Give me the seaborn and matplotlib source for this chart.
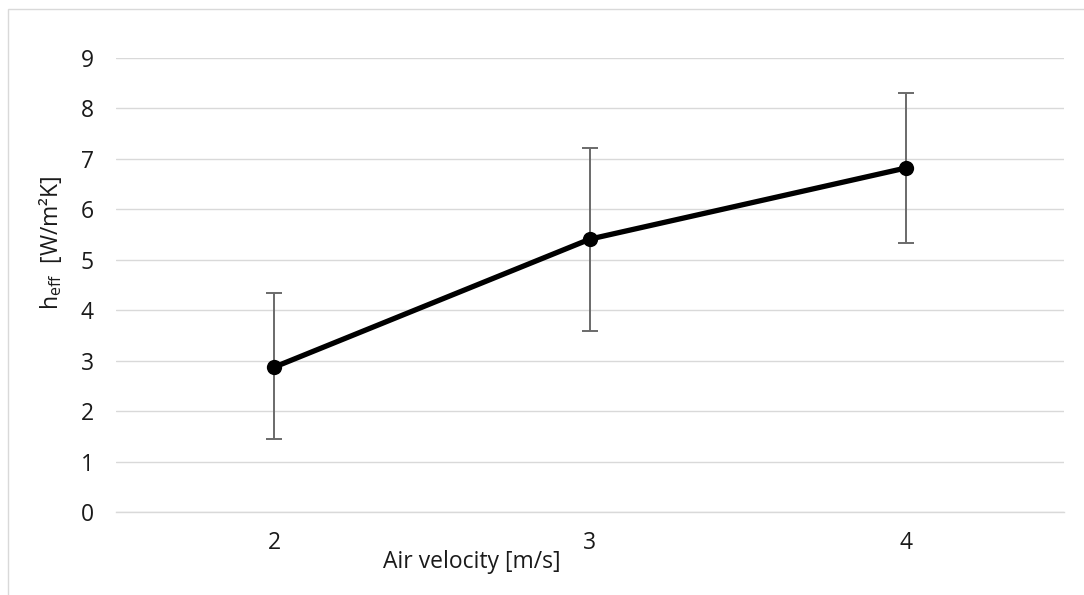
import numpy as np
import pandas as pd
import matplotlib
matplotlib.use("Agg")
import matplotlib.pyplot as plt
from matplotlib.patches import Rectangle
import seaborn as sns

# Measured effective heat transfer coefficient vs. air velocity
velocity = [2, 3, 4]
h_eff = [2.87, 5.41, 6.82]
h_low = [1.45, 3.59, 5.34]
h_high = [4.35, 7.22, 8.31]
y_ticks = [0, 1, 2, 3, 4, 5, 6, 7, 8, 9]

df = pd.DataFrame({"velocity": velocity, "h_eff": h_eff})

sns.set_theme(style="white")
plt.rcParams["font.family"] = ["Open Sans", "DejaVu Sans"]
plt.rcParams["mathtext.fontset"] = "custom"
plt.rcParams["mathtext.rm"] = "Open Sans"

FS = 16.5
TXT = "#1a1a1a"

fig = plt.figure(figsize=(10.84, 5.95), dpi=100)
ax = fig.add_axes([116 / 1084, 1 - 512 / 595, 948 / 1084, 454 / 595])

# light frame around the chart
fig.patches.append(Rectangle((7.5 / 1084, -0.05), 1.1, 1 - 9 / 595 + 0.05,
                             transform=fig.transFigure, fill=False,
                             edgecolor="#d9d9d9", linewidth=1.0, zorder=0))

lower = np.array(h_eff) - np.array(h_low)
upper = np.array(h_high) - np.array(h_eff)
ax.errorbar(velocity, h_eff, yerr=[lower, upper], fmt="none",
            ecolor="#6a6a6a", elinewidth=1.4, capsize=5.5, capthick=1.4, zorder=2)

sns.lineplot(data=df, x="velocity", y="h_eff", ax=ax, color="black",
             linewidth=3.8, marker="o", markersize=11, markeredgewidth=0,
             zorder=3)

ax.set_xlim(1.5, 4.5)
ax.set_ylim(0, 9)
ax.set_yticks(y_ticks)
ax.set_xticks(velocity)
ax.set_xticklabels([str(v) for v in velocity])
ax.yaxis.grid(True, color="#d9d9d9", linewidth=1.0)
ax.xaxis.grid(False)
for s in ["top", "right", "left"]:
    ax.spines[s].set_visible(False)
ax.spines["bottom"].set_color("#d9d9d9")
ax.spines["bottom"].set_linewidth(1.0)
ax.set_axisbelow(True)

ax.tick_params(axis="both", length=0, labelsize=FS, colors=TXT)
ax.tick_params(axis="x", pad=14)
ax.tick_params(axis="y", pad=16)

ax.set_xlabel("Air velocity [m/s]", fontsize=FS, color=TXT)
ax.xaxis.label.set_va("center")
ax.xaxis.set_label_coords((472 - 116) / 948, (512 - 562) / 454)

ax.set_ylabel(r"h$\mathregular{_{eff}}$  [W/m²K]", fontsize=FS, color=TXT)
ax.yaxis.label.set_va("center")
ax.yaxis.set_label_coords((50 - 116) / 948, (512 - 243) / 454)

fig.savefig("out.png", dpi=100)
